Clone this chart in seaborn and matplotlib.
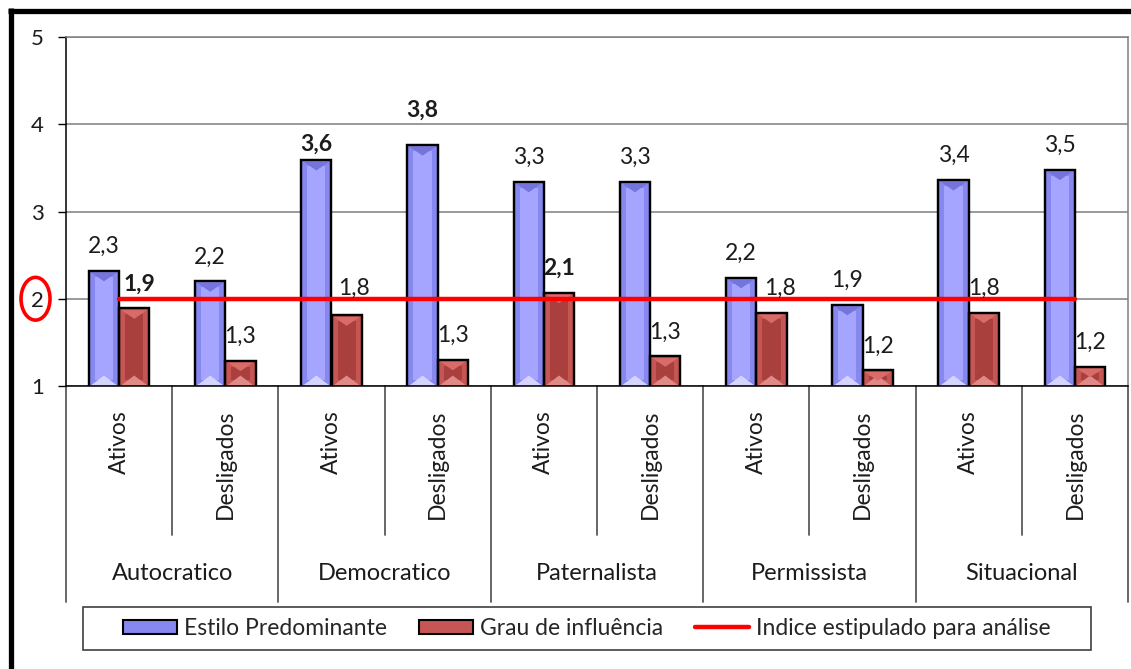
import numpy as np
import pandas as pd
import matplotlib
matplotlib.use("Agg")
import matplotlib.pyplot as plt
import matplotlib.transforms as mtransforms
from matplotlib.patches import Patch, Rectangle, Ellipse, Polygon
from matplotlib.lines import Line2D
import seaborn as sns

# ---- data -------------------------------------------------------------
estilos = ["Autocratico", "Democratico", "Paternalista", "Permissista", "Situacional"]
grupos = ["Ativos", "Desligados"]
estilo_predominante = [2.32, 2.20, 3.59, 3.76, 3.34, 3.34, 2.24, 1.93, 3.36, 3.48]
grau_influencia = [1.89, 1.29, 1.81, 1.30, 2.07, 1.34, 1.84, 1.18, 1.84, 1.22]
indice_analise = 2.0
y_ticks = [1, 2, 3, 4, 5]
series = ["Estilo Predominante", "Grau de influência", "Indice estipulado para análise"]

# labels printed in bold (index into each series)
negrito_estilo = [2, 3]
negrito_grau = [0, 4]
# individual label nudges in points: (series, index) -> (dx, dy)
ajustes = {(0, 2): (0, -6), (0, 3): (0, 8), (1, 0): (4, 0), (1, 2): (5, 2), (1, 6): (6, 0)}

# ---- styling ----------------------------------------------------------
sns.set_theme(style="white")
plt.rcParams["font.family"] = ["Lato", "DejaVu Sans"]

AZUL, AZUL_CLARO, AZUL_BASE, AZUL_TOPO = "#8787F0", "#A5A5FF", "#D4D4FF", "#7474DC"
VERM, VERM_ESC, VERM_BASE, VERM_TOPO = "#C65653", "#A9403E", "#E08A88", "#D96C69"
GRADE = "#7f7f7f"
LINHA_SEP = "#5a5a5a"
TEXTO = "#1c1c1c"

slots = [f"{e}\n{g}" for e in estilos for g in grupos]
n = len(slots)
df = pd.DataFrame({
    "slot": slots * 2,
    "valor": estilo_predominante + grau_influencia,
    "serie": [series[0]] * n + [series[1]] * n,
})

fig = plt.figure(figsize=(11.31, 6.69), dpi=100)
ax = fig.add_axes([66 / 1131, 283 / 669, 1062 / 1131, 349 / 669])

sns.barplot(data=df, x="slot", y="valor", hue="serie", order=slots,
            hue_order=series[:2], palette=[AZUL, VERM], saturation=1,
            width=0.57, edgecolor="black", linewidth=1.6, legend=False,
            zorder=2, ax=ax)

ax.set_xlim(-0.5, n - 0.5)
ax.set_ylim(y_ticks[0], y_ticks[-1])

# bevel-like inner highlight on each bar
ymin = y_ticks[0]
for cont, inner, base, topo in zip(ax.containers, [AZUL_CLARO, VERM_ESC],
                                   [AZUL_BASE, VERM_BASE], [AZUL_TOPO, VERM_TOPO]):
    for bar in cont:
        x0, w, top = bar.get_x(), bar.get_width(), bar.get_height()
        ax.add_patch(Rectangle((x0 + 0.2 * w, ymin + 0.07), 0.6 * w, top - ymin - 0.14,
                               facecolor=inner, edgecolor="none", zorder=2.1))
        ax.add_patch(Polygon([(x0 + 0.08 * w, ymin + 0.01), (x0 + 0.92 * w, ymin + 0.01),
                              (x0 + 0.5 * w, ymin + 0.12)],
                             closed=True, facecolor=base, edgecolor="none", zorder=2.2))
        ax.add_patch(Polygon([(x0 + 0.08 * w, top - 0.02), (x0 + 0.92 * w, top - 0.02),
                              (x0 + 0.5 * w, top - 0.12)],
                             closed=True, facecolor=topo, edgecolor="none", zorder=2.2))
        # redraw the outline above the highlights
        ax.add_patch(Rectangle((x0, bar.get_y()), w, top, facecolor="none",
                               edgecolor="black", linewidth=1.6, zorder=2.3))

# reference line at the analysis index
sns.lineplot(x=np.arange(n), y=np.full(n, indice_analise), color="#FF0000",
             linewidth=3.2, ax=ax, zorder=4, legend=False)

# value labels
def fmt(v):
    return f"{v:.1f}".replace(".", ",")

for s, (cont, vals, bold) in enumerate(zip(ax.containers,
                                           [estilo_predominante, grau_influencia],
                                           [negrito_estilo, negrito_grau])):
    for i, (bar, v) in enumerate(zip(cont, vals)):
        dx, dy = ajustes.get((s, i), (0, 0))
        ax.annotate(fmt(v), (bar.get_x() + bar.get_width() / 2, bar.get_height()),
                    xytext=(dx, 17.5 + dy), textcoords="offset points",
                    ha="center", va="center", fontsize=16.5, color=TEXTO,
                    fontweight="bold" if i in bold else "normal", zorder=5)

# axes cosmetics
ax.set_xlabel("")
ax.set_ylabel("")
ax.set_yticks(y_ticks)
ax.set_yticklabels([str(t) for t in y_ticks], fontsize=16, color=TEXTO)
ax.tick_params(axis="y", length=6, width=1, color="black", pad=10, left=True)
ax.tick_params(axis="x", length=0, labelbottom=False)
ax.yaxis.grid(True, color=GRADE, linewidth=1.1)
ax.set_axisbelow(True)
for side in ["top", "right"]:
    ax.spines[side].set_color(GRADE)
    ax.spines[side].set_linewidth(1.1)
for side in ["left", "bottom"]:
    ax.spines[side].set_color("black")
    ax.spines[side].set_linewidth(1.1)

# two-level category axis
tr = mtransforms.blended_transform_factory(ax.transData, ax.transAxes)
sub_depth, grp_depth = -0.427, -0.619
for k in range(len(estilos) + 1):
    xb = 2 * k - 0.5
    ax.add_line(Line2D([xb, xb], [0, grp_depth], transform=tr, color=LINHA_SEP,
                       linewidth=1.3, clip_on=False))
for k in range(len(estilos)):
    xb = 2 * k + 0.5
    ax.add_line(Line2D([xb, xb], [0, sub_depth], transform=tr, color=LINHA_SEP,
                       linewidth=1.3, clip_on=False))
for i in range(n):
    ax.text(i, -0.069, grupos[i % 2], transform=tr, rotation=90, ha="center", va="top",
            fontsize=16.5, color=TEXTO)
for k, e in enumerate(estilos):
    ax.text(2 * k + 0.5, -0.536, e, transform=tr, ha="center", va="center",
            fontsize=17, color=TEXTO)

# highlight around the tick value 2
tr_y = mtransforms.blended_transform_factory(ax.transAxes, ax.transData)
ax.add_patch(Ellipse((-0.0287, indice_analise), 0.0273, 0.49, transform=tr_y,
                     facecolor="none", edgecolor="#FF0000", linewidth=2.6, clip_on=False))

# legend with a plain rectangular frame
fig.add_artist(Rectangle((83 / 1131, 1 - 650 / 669), 1008 / 1131, 43 / 669,
                         transform=fig.transFigure, facecolor="white",
                         edgecolor="#404040", linewidth=1.2))
handles = [Patch(facecolor=AZUL, edgecolor="black", linewidth=1.5),
           Patch(facecolor=VERM, edgecolor="black", linewidth=1.5),
           Line2D([0], [0], color="#FF0000", linewidth=3.2)]
fig.legend(handles, series, ncol=3, frameon=False, loc="center",
           bbox_to_anchor=(0.519, 1 - 628.5 / 669), fontsize=16.5,
           handlelength=2.36, handleheight=0.6, handletextpad=0.3, columnspacing=1.4)

# heavy frame along the left and top edges
fig.add_artist(Line2D([10.5 / 1131, 10.5 / 1131], [0, 1 - 8 / 669], transform=fig.transFigure,
                      color="black", linewidth=3.8, solid_capstyle="butt"))
fig.add_artist(Line2D([8 / 1131, 1], [1 - 10.5 / 669, 1 - 10.5 / 669], transform=fig.transFigure,
                      color="black", linewidth=3.8, solid_capstyle="butt"))

fig.savefig("out.png", dpi=100, facecolor="white")
